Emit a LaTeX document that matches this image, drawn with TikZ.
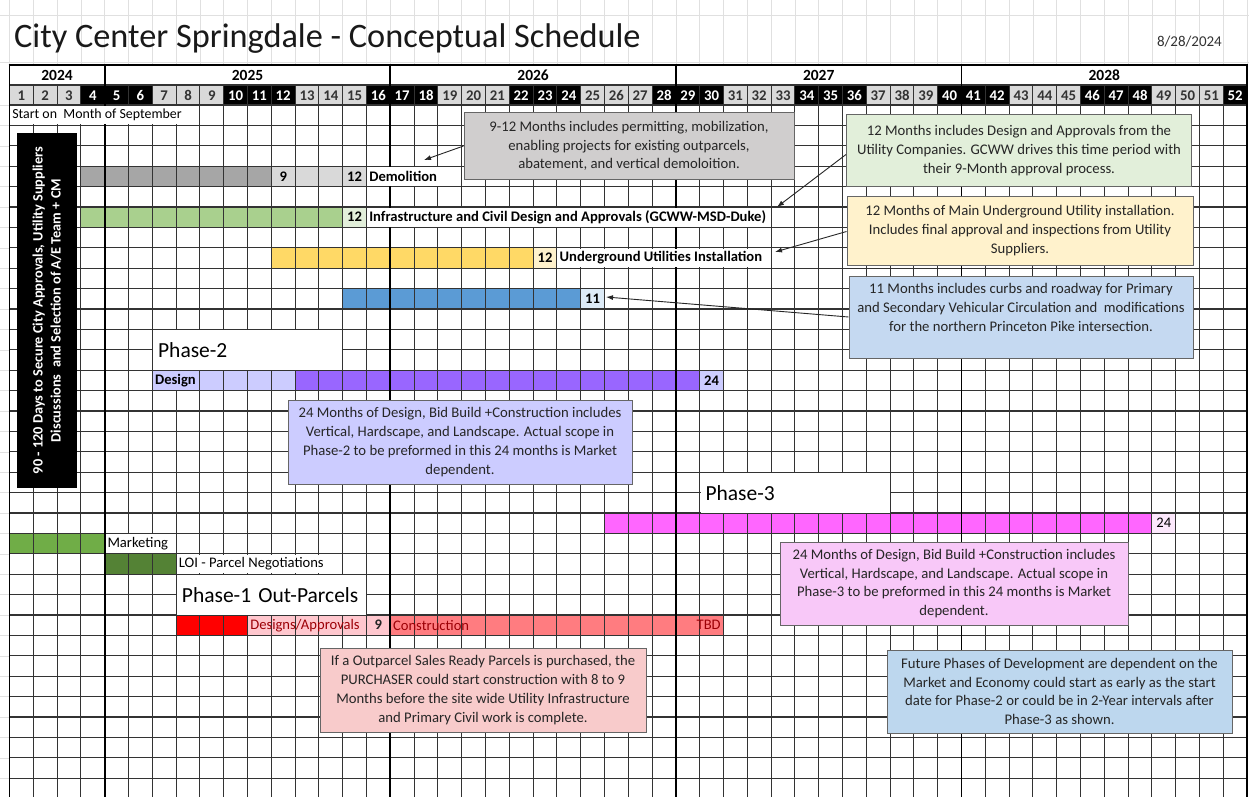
\documentclass[tikz,border=0pt]{standalone}
\usepackage{fontspec}
\setmainfont{Carlito}
\usetikzlibrary{arrows.meta}
\definecolor{hdrgray}{HTML}{D9D9D9}
\definecolor{cDemoD}{HTML}{A6A6A6}
\definecolor{cDemoL}{HTML}{D9D9D9}
\definecolor{cInfra}{HTML}{A9D08E}
\definecolor{cInfraL}{HTML}{E2EFDA}
\definecolor{cUG}{HTML}{FFD966}
\definecolor{cUGL}{HTML}{FFF2CC}
\definecolor{cBlue}{HTML}{5B9BD5}
\definecolor{cBlueL}{HTML}{DDEBF7}
\definecolor{cLav}{HTML}{CCCCFF}
\definecolor{cPurple}{HTML}{9966FF}
\definecolor{cMag}{HTML}{FF66FF}
\definecolor{cMagL}{HTML}{FCE8FC}
\definecolor{cMkt}{HTML}{70AD47}
\definecolor{cLOI}{HTML}{548235}
\definecolor{cRed}{HTML}{FF0000}
\definecolor{cPink}{HTML}{FFC7CE}
\definecolor{cSalmon}{HTML}{FF7C80}
\definecolor{cDkRed}{HTML}{9C0006}
\definecolor{nGray}{HTML}{D0CECE}
\definecolor{nGreen}{HTML}{E2EFDA}
\definecolor{nYellow}{HTML}{FFF2CC}
\definecolor{nBlue}{HTML}{C5D9F1}
\definecolor{nLav}{HTML}{CCCCFF}
\definecolor{nPinkV}{HTML}{F8C8F8}
\definecolor{nRed}{HTML}{F8CBCB}
\definecolor{nBlue2}{HTML}{BDD7EE}
\newcommand\cells[4]{\fill[#4] ({cx(#1)},{ry(#3)}) rectangle ({cx(#2+1)},{ry(#3+1)});}
\newcommand\fsl{\fontsize{14.6}{16}\selectfont}
\begin{document}
\begin{tikzpicture}[x=1pt,y=-1pt,
  declare function={cx(\i)=9.5+(\i-1)*23.8; ry(\j)=105+(\j-1)*20.4;},
  gridln/.style={draw=black!80, line width=1.05pt},
  yearln/.style={draw=black, line width=1.9pt},
  faint/.style={draw=black!12, line width=0.6pt},
  num/.style={font=\fsl\bfseries, inner sep=0pt},
  lab/.style={font=\fsl\bfseries, fill=white, inner xsep=2pt, inner ysep=0pt, minimum height=18.6pt, anchor=west},
  labn/.style={font=\fsl, fill=white, inner xsep=2pt, inner ysep=0pt, minimum height=18.6pt, anchor=west},
  phlab/.style={font=\fontsize{21.5}{23}\selectfont, fill=white, inner xsep=5pt, inner ysep=0pt, minimum height=39.4pt, text width=179pt, align=left, anchor=north west},
  note/.style={draw=black!60, line width=1pt, align=center, font=\fontsize{14.7}{18.8}\selectfont, inner sep=0pt, text=black!85},
  arr/.style={draw=black!85, line width=0.9pt, -{Latex[length=7pt,width=5pt]}}
]
\useasboundingbox (0,0) rectangle (1249,797);
\fill[white] (0,0) rectangle (1249,797);
% faint spreadsheet lines above and left of the chart
\foreach \i in {1,...,53} \draw[faint] ({cx(\i)},0) -- ({cx(\i)},65);
\draw[faint] (0,15) -- (1249,15);
\draw[faint] (0,62) -- (1249,62);
\foreach \k in {1,...,35} \draw[faint] (0,{ry(\k)}) -- (9.5,{ry(\k)});
% title
\node[anchor=base west, inner sep=0pt, font=\fontsize{34.3}{36}\selectfont, text=black!90] (title) at (14,48) {City Center Springdale - Conceptual Schedule};
\node[anchor=base east, inner sep=0pt, font=\fontsize{15}{17}\selectfont, text=black!80] (date) at (1222,47) {8/28/2024};
% month header
\foreach \m in {1,...,52}{
  \pgfmathtruncatemacro\q{mod(\m-1,6)}
  \ifnum\q>2 \def\fc{black}\def\tc{white}\else\def\fc{hdrgray}\def\tc{black!80}\fi
  \fill[\fc] ({cx(\m)},85) rectangle ({cx(\m+1)},105);
  \node[font=\fontsize{14.8}{16}\selectfont\bfseries, text=\tc, inner sep=0pt] (m\m) at ({cx(\m)+11.9},95.5) {\m};
}
% years
\node[num, font=\fontsize{15.5}{17}\selectfont\bfseries] (y2024) at ({(cx(1)+cx(5))/2},75.5) {2024};
\node[num, font=\fontsize{15.5}{17}\selectfont\bfseries] (y2025) at ({(cx(5)+cx(17))/2},75.5) {2025};
\node[num, font=\fontsize{15.5}{17}\selectfont\bfseries] (y2026) at ({(cx(17)+cx(29))/2},75.5) {2026};
\node[num, font=\fontsize{15.5}{17}\selectfont\bfseries] (y2027) at ({(cx(29)+cx(41))/2},75.5) {2027};
\node[num, font=\fontsize{15.5}{17}\selectfont\bfseries] (y2028) at ({(cx(41)+cx(53))/2},75.5) {2028};
% bars
\cells{4}{11}{4}{cDemoD}
\cells{12}{15}{4}{cDemoL}
\cells{4}{14}{6}{cInfra}
\cells{15}{15}{6}{cInfraL}
\cells{12}{22}{8}{cUG}
\cells{23}{23}{8}{cUGL}
\cells{15}{24}{10}{cBlue}
\cells{25}{25}{10}{cBlueL}
\cells{7}{12}{14}{cLav}
\cells{13}{29}{14}{cPurple}
\cells{30}{30}{14}{cLav}
\cells{26}{48}{21}{cMag}
\cells{49}{49}{21}{cMagL}
\cells{1}{4}{22}{cMkt}
\cells{5}{7}{23}{cLOI}
\cells{8}{10}{26}{cRed}
\cells{11}{16}{26}{cPink}
\cells{17}{30}{26}{cSalmon}
% grid
\foreach \i in {1,...,53} \draw[gridln] ({cx(\i)},85) -- ({cx(\i)},797);
\draw[gridln] ({cx(1)},85) -- ({cx(53)},85);
\draw[gridln] ({cx(1)},105) -- ({cx(53)},105);
\foreach \k in {2,...,35} \draw[gridln] ({cx(1)},{ry(\k)}) -- ({cx(53)},{ry(\k)});
\foreach \i in {1,5,17,29,41,53} \draw[yearln] ({cx(\i)},65) -- ({cx(\i)},797);
\draw[yearln] ({cx(1)-0.9},65) -- ({cx(53)+0.9},65);
% bar texts and labels
\node[labn, font=\fontsize{13.9}{16}\selectfont] (start) at ({cx(1)+0.6},{ry(1)+10.2}) {\makebox[184pt][l]{Start on~ Month of September}};
\node[num] (d9) at ({cx(12)+11.9},{ry(4)+10.2}) {9};
\node[num] (d12) at ({cx(15)+11.9},{ry(4)+10.2}) {12};
\node[lab] (ldemo) at ({cx(16)+0.6},{ry(4)+10.2}) {\makebox[67pt][l]{Demolition}};
\node[num] (i12) at ({cx(15)+11.9},{ry(6)+10.2}) {12};
\node[lab] (linfra) at ({cx(16)+0.6},{ry(6)+10.2}) {Infrastructure and Civil Design and Approvals (GCWW-MSD-Duke)};
\node[num] (u12) at ({cx(23)+11.9},{ry(8)+10.2}) {12};
\node[lab] (lug) at ({cx(24)+0.6},{ry(8)+10.2}) {Underground Utilities Installation};
\node[num] (b11) at ({cx(25)+11.9},{ry(10)+10.2}) {11};
\node[lab, fill=cLav] (ldesign) at ({cx(7)+0.6},{ry(14)+10.2}) {\makebox[42pt][l]{Design}};
\node[num] (p24) at ({cx(30)+11.9},{ry(14)+10.2}) {24};
\node[num, font=\fsl] (q24) at ({cx(49)+11.9},{ry(21)+10.2}) {24};
\node[labn] (lmkt) at ({cx(5)+0.6},{ry(22)+10.2}) {\makebox[66pt][l]{Marketing}};
\node[labn] (lloi) at ({cx(8)+0.6},{ry(23)+10.2}) {\makebox[161pt][l]{LOI - Parcel Negotiations}};
\node[labn, fill=none, text=cDkRed] (ldes) at ({cx(11)+0.6},{ry(26)+10.2}) {Designs/Approvals};
\node[num, text=black!85, fill=cPink, minimum width=22pt, minimum height=18.6pt] (r9) at ({cx(16)+11.9},{ry(26)+10.2}) {9};
\node[labn, fill=none, text=cDkRed] (lcon) at ({cx(17)+0.6},{ry(26)+10.2}) {Construction};
\node[labn, fill=none, text=cDkRed, anchor=east] (ltbd) at ({cx(31)-0.6},{ry(26)+10.2}) {TBD};
% phase labels
\node[phlab] (ph2) at ({cx(7)+0.6},{ry(12)+0.7}) {Phase-2};
\node[phlab] (ph3) at ({cx(30)+0.6},{ry(19)+0.7}) {Phase-3};
\node[phlab] (ph1) at ({cx(8)+0.6},{ry(24)+0.7}) {Phase-1 Out-Parcels};
% black vertical box
\node[rotate=90, fill=black, text=white, minimum width=355pt, minimum height=60pt, inner sep=0pt, align=center, font=\fontsize{14.3}{18}\selectfont\bfseries] (blk) at (47,310.5) {90 - 120 Days to Secure City Approvals, Utility Suppliers\\Discussions~ and Selection of A/E Team + CM};
% notes
\node[note, fill=nGray, minimum width=330pt, minimum height=66pt] (ngray) at (629,146) {9-12 Months includes permitting, mobilization,\\enabling projects for existing outparcels,\\abatement, and vertical demoloition.};
\node[note, fill=nGreen, minimum width=345pt, minimum height=71pt] (ngreen) at (1019,150.5) {12 Months includes Design and Approvals from the\\Utility Companies. GCWW drives this time period with\\their 9-Month approval process.};
\node[note, fill=nYellow, minimum width=346pt, minimum height=69pt] (nyellow) at (1020,230.5) {12 Months of Main Underground Utility installation.\\Includes final approval and inspections from Utility\\Suppliers.};
\node[note, fill=nBlue, minimum width=344pt, minimum height=82pt] (nblue) at (1021,317) {11 Months includes curbs and roadway for Primary\\and Secondary Vehicular Circulation and~ modifications\\for the northern Princeton Pike intersection.\\\mbox{}};
\node[note, fill=nLav, minimum width=344pt, minimum height=84pt] (nph2) at (460,442) {24 Months of Design, Bid Build +Construction includes\\Vertical, Hardscape, and Landscape. Actual scope in\\Phase-2 to be preformed in this 24 months is Market\\dependent.};
\node[note, fill=nPinkV, minimum width=348pt, minimum height=83pt] (nph3) at (954,583.5) {24 Months of Design, Bid Build +Construction includes\\Vertical, Hardscape, and Landscape. Actual scope in\\Phase-3 to be preformed in this 24 months is Market\\dependent.};
\node[note, fill=nRed, minimum width=326pt, minimum height=84pt] (nout) at (483,690) {If a Outparcel Sales Ready Parcels is purchased, the\\PURCHASER could start construction with 8 to 9\\Months before the site wide Utility Infrastructure\\and Primary Civil work is complete.};
\node[note, fill=nBlue2, minimum width=345pt, minimum height=83pt] (nfut) at (1059.5,691.5) {Future Phases of Development are dependent on the\\Market and Economy could start as early as the start\\date for Phase-2 or could be in 2-Year intervals after\\Phase-3 as shown.};
% arrows
\coordinate (t1) at (424,160);
\coordinate (t2) at (777,207);
\coordinate (t3) at (775,252);
\coordinate (t4) at (606,297);
\draw[arr] (ngray.west) -- (t1);
\draw[arr] ([yshift=-4pt]ngreen.west) -- (t2);
\draw[arr] ([yshift=-1pt]nyellow.west) -- (t3);
\draw[arr] (nblue.west) -- (t4);
\end{tikzpicture}
\end{document}
